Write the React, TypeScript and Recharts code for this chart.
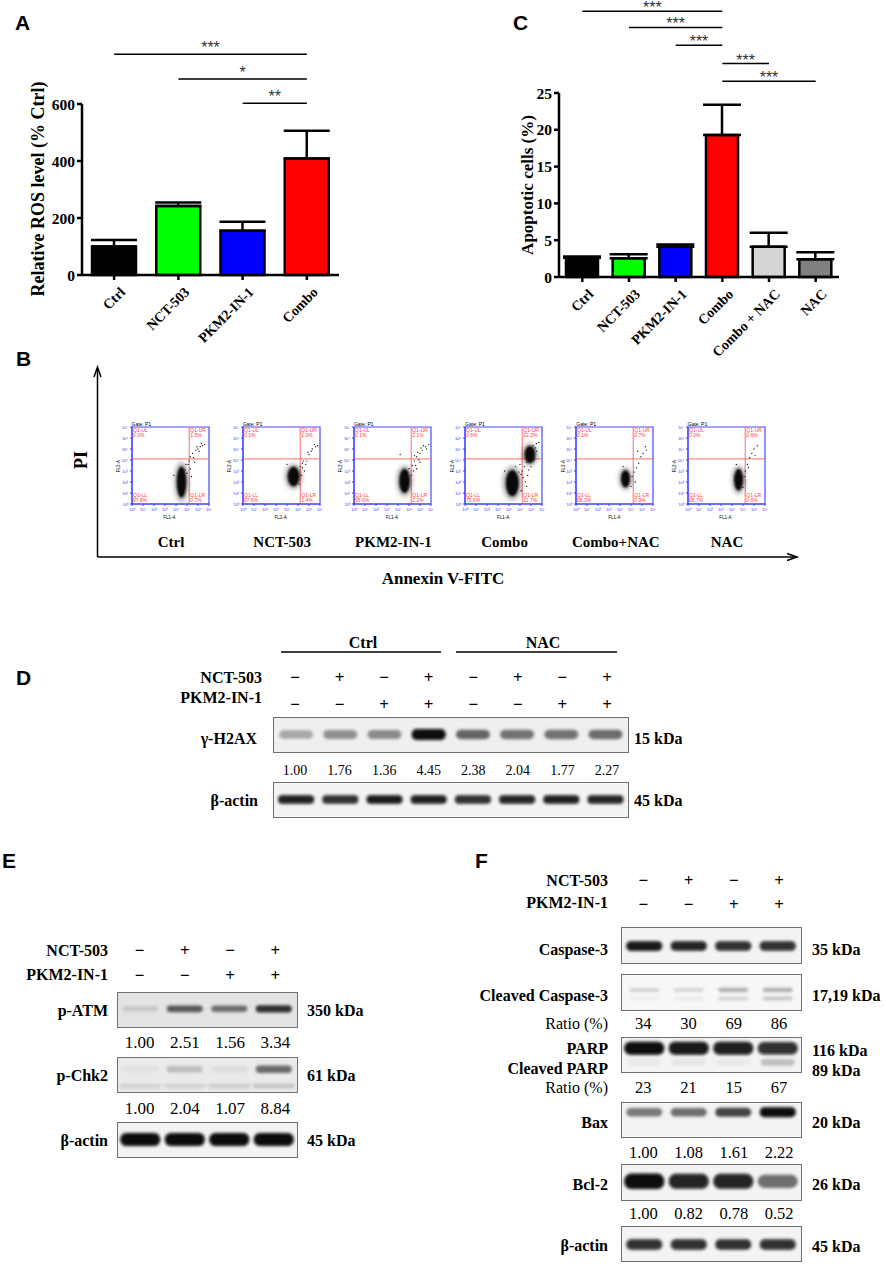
import React from 'react';
import {
  Bar,
  BarChart,
  Cell,
  ErrorBar,
  ReferenceArea,
  ReferenceDot,
  ReferenceLine,
  Scatter,
  ScatterChart,
  XAxis,
  YAxis,
} from 'recharts';

const SERIF = "'Liberation Serif', 'Times New Roman', serif";
const SANS = "'Liberation Sans', Arial, sans-serif";

// ---- panel A: ROS ----
const rosGroups = ['Ctrl', 'NCT-503', 'PKM2-IN-1', 'Combo'];
const rosMean = [100, 242, 155, 409];
const rosSem = [23, 12, 32, 97];
const rosColors = ['#000000', '#00ff00', '#0000ff', '#ff0000'];
const rosTicks = [0, 200, 400, 600];
const rosSig = [
  { from: 'Ctrl', to: 'Combo', y: 775, mark: '***' },
  { from: 'NCT-503', to: 'Combo', y: 688, mark: '*' },
  { from: 'PKM2-IN-1', to: 'Combo', y: 603, mark: '**' },
];

// ---- panel C: apoptosis ----
const apoGroups = ['Ctrl', 'NCT-503', 'PKM2-IN-1', 'Combo', 'Combo + NAC', 'NAC'];
const apoMean = [2.6, 2.55, 4.1, 19.3, 4.1, 2.4];
const apoSem = [0.2, 0.55, 0.3, 4.1, 1.9, 0.95];
const apoColors = ['#000000', '#00ff00', '#0000ff', '#ff0000', '#d6d6d6', '#808080'];
const apoTicks = [0, 5, 10, 15, 20, 25];
const apoSig = [
  { from: 'Ctrl', to: 'Combo', y: 36.1, mark: '***' },
  { from: 'NCT-503', to: 'Combo', y: 33.9, mark: '***' },
  { from: 'PKM2-IN-1', to: 'Combo', y: 31.5, mark: '***' },
  { from: 'Combo', to: 'Combo + NAC', y: 29.0, mark: '***' },
  { from: 'Combo', to: 'NAC', y: 26.6, mark: '***' },
];

// ---- panel B: flow cytometry ----
const flowLabels = ['Ctrl', 'NCT-503', 'PKM2-IN-1', 'Combo', 'Combo+NAC', 'NAC'];
const flowUL = ['0.0%', '0.1%', '0.1%', '0.6%', '0.1%', '0.0%'];
const flowUR = ['1.5%', '1.0%', '2.1%', '12.2%', '0.7%', '0.6%'];
const flowLL = ['97.8%', '97.6%', '95.6%', '75.6%', '98.3%', '98.7%'];
const flowLR = ['0.7%', '1.4%', '2.2%', '11.7%', '0.9%', '0.6%'];
const flowCores = [
  [{ x: 4.5, y: 2.0, rx: 0.45, ry: 1.4 }],
  [{ x: 4.6, y: 2.5, rx: 0.55, ry: 0.9 }],
  [{ x: 4.6, y: 2.1, rx: 0.5, ry: 1.1 }],
  [{ x: 4.3, y: 1.9, rx: 0.6, ry: 1.2 }, { x: 5.9, y: 4.5, rx: 0.5, ry: 0.8 }],
  [{ x: 4.5, y: 2.3, rx: 0.42, ry: 0.8 }],
  [{ x: 4.6, y: 2.2, rx: 0.42, ry: 1.0 }],
];
const flowEvents = [
  [[5.3, 4.3], [5.5, 4.6], [5.8, 4.9], [6.0, 5.0], [6.2, 5.2], [6.4, 5.3], [6.6, 5.4], [5.6, 4.2], [5.1, 3.6], [5.3, 3.2], [4.9, 3.6], [5.0, 2.8], [5.4, 2.5], [3.8, 2.6], [5.7, 3.8], [6.1, 4.8], [5.9, 5.2], [6.3, 5.5], [5.2, 3.9], [4.8, 3.1]],
  [[5.4, 3.3], [5.7, 3.6], [5.5, 3.9], [6.0, 4.5], [6.3, 5.0], [6.6, 5.2], [6.8, 5.3], [5.9, 4.7], [5.3, 2.6], [5.1, 1.8], [5.6, 3.0], [4.0, 3.6], [6.2, 4.8], [5.2, 3.4], [6.5, 5.4], [5.8, 3.9], [5.4, 3.7]],
  [[5.3, 3.5], [5.5, 3.9], [5.7, 4.3], [6.0, 4.6], [6.2, 4.9], [6.5, 5.2], [6.8, 5.4], [5.6, 3.5], [5.9, 4.0], [5.4, 3.0], [5.2, 2.6], [6.1, 5.1], [5.8, 4.7], [4.2, 4.5], [5.0, 3.2], [6.6, 5.0], [6.3, 5.3], [5.7, 3.2], [6.0, 3.8], [5.5, 4.4]],
  [[5.2, 3.0], [5.4, 3.4], [5.6, 3.8], [5.3, 2.4], [5.5, 2.0], [5.7, 2.6], [6.2, 5.3], [6.5, 5.5], [6.7, 5.6], [5.0, 3.6], [6.0, 3.4], [5.8, 3.1], [6.3, 4.0], [5.1, 1.2], [4.6, 3.4], [3.6, 3.0], [6.5, 4.8], [5.1, 2.7], [5.6, 1.6], [6.4, 5.1], [4.9, 2.9]],
  [[5.1, 2.5], [5.3, 2.9], [5.5, 3.3], [5.7, 3.7], [5.9, 4.3], [6.1, 4.6], [6.4, 4.9], [5.0, 1.6], [5.6, 4.8], [4.3, 3.4], [5.4, 2.0], [6.3, 5.2]],
  [[5.2, 3.0], [5.4, 3.6], [5.6, 4.2], [5.8, 4.6], [6.0, 5.0], [6.3, 5.3], [5.1, 2.5], [4.4, 3.6], [5.5, 3.3], [6.1, 4.4], [5.0, 1.5]],
];
const flowTicks = [0, 1, 2, 3, 4, 5, 6, 7];
const flowTickText = ['10⁰', '10¹', '10²', '10³', '10⁴', '10⁵', '10⁶', '10⁷'];
const gateX = 5.2;
const gateY = 4.1;

// ---- panel D ----
const dNct = ['−', '+', '−', '+', '−', '+', '−', '+'];
const dPkm = ['−', '−', '+', '+', '−', '−', '+', '+'];
const dH2axValues = ['1.00', '1.76', '1.36', '4.45', '2.38', '2.04', '1.77', '2.27'];
const dH2axDark = [0.3, 0.4, 0.42, 1.0, 0.58, 0.52, 0.52, 0.55];
const dActinDark = [0.92, 0.85, 0.95, 0.92, 0.85, 0.9, 0.92, 0.9];

// ---- panel E ----
const ePlusMinusNct = ['−', '+', '−', '+'];
const ePlusMinusPkm = ['−', '−', '+', '+'];
const eAtmValues = ['1.00', '2.51', '1.56', '3.34'];
const eChkValues = ['1.00', '2.04', '1.07', '8.84'];
const eAtmDark = [0.12, 0.62, 0.52, 0.8];
const eChkDark = [0.04, 0.2, 0.06, 0.55];
const eChkLowDark = [0.1, 0.1, 0.12, 0.16];
const eActinDark = [1, 1, 1, 1];

// ---- panel F ----
const fCasp3Dark = [0.95, 0.9, 0.85, 0.85];
const fClCaspUpper = [0.16, 0.14, 0.3, 0.3];
const fClCaspLower = [0.04, 0.05, 0.14, 0.2];
const fClCaspRatio = ['34', '30', '69', '86'];
const fParpDark = [1, 0.95, 0.92, 0.85];
const fClParpDark = [0.04, 0.06, 0.04, 0.22];
const fParpRatio = ['23', '21', '15', '67'];
const fBaxDark = [0.5, 0.55, 0.72, 1];
const fBaxValues = ['1.00', '1.08', '1.61', '2.22'];
const fBcl2Dark = [1, 0.9, 0.9, 0.55];
const fBcl2Values = ['1.00', '0.82', '0.78', '0.52'];
const fActinDark = [0.85, 0.85, 0.8, 0.85];

const rosData = rosGroups.map((name, i) => ({ name, mean: rosMean[i], err: [0, rosSem[i]] }));
const apoData = apoGroups.map((name, i) => ({ name, mean: apoMean[i], err: [0, apoSem[i]] }));

function SlantTick({ x, y, payload }: any) {
  return (
    <g transform={`translate(${x + 5},${y + 4})`}>
      <text
        textAnchor="end"
        transform="rotate(-45)"
        dy="0.7em"
        fontFamily={SERIF}
        fontWeight="bold"
        fontSize={14}
        fill="#000"
      >
        {payload.value}
      </text>
    </g>
  );
}

const axisStyle = { stroke: '#000', strokeWidth: 2.5 };
const yTick = { fill: '#000', fontFamily: SERIF, fontWeight: 'bold', fontSize: 15.5 };
const starStyle = { fill: '#333', fontSize: 16, fontFamily: SANS };

function RosChart() {
  return (
    <BarChart width={440} height={360} data={rosData} margin={{ top: 104, right: 101, bottom: 10, left: 32 }}>
      <XAxis dataKey="name" interval={0} height={75} tickSize={5} axisLine={axisStyle} tickLine={axisStyle} tick={<SlantTick />} />
      <YAxis domain={[0, 600]} ticks={rosTicks} interval={0} width={50} tickSize={5} axisLine={axisStyle} tickLine={axisStyle} tick={yTick} />
      <Bar dataKey="mean" barSize={44} stroke="#000" strokeWidth={2.5} isAnimationActive={false}>
        {rosData.map((d, i) => (
          <Cell key={d.name} fill={rosColors[i]} />
        ))}
        <ErrorBar dataKey="err" width={23} stroke="#000" strokeWidth={2.5} direction="y" />
      </Bar>
      {rosSig.map((s) => (
        <ReferenceLine
          key={s.from + s.to}
          segment={[{ x: s.from, y: s.y }, { x: s.to, y: s.y }]}
          ifOverflow="visible"
          stroke="#000"
          strokeWidth={1.5}
          label={{ value: s.mark, position: 'top', offset: 1, ...starStyle }}
        />
      ))}
    </BarChart>
  );
}

function ApoChart() {
  return (
    <BarChart width={446} height={360} data={apoData} margin={{ top: 93, right: 47, bottom: 8, left: 69 }}>
      <XAxis dataKey="name" interval={0} height={75} tickSize={5} axisLine={axisStyle} tickLine={axisStyle} tick={<SlantTick />} />
      <YAxis domain={[0, 25]} ticks={apoTicks} interval={0} width={50} tickSize={5} axisLine={axisStyle} tickLine={axisStyle} tick={yTick} />
      <Bar dataKey="mean" barSize={32} stroke="#000" strokeWidth={2.5} isAnimationActive={false}>
        {apoData.map((d, i) => (
          <Cell key={d.name} fill={apoColors[i]} />
        ))}
        <ErrorBar dataKey="err" width={19} stroke="#000" strokeWidth={2.5} direction="y" />
      </Bar>
      {apoSig.map((s) => (
        <ReferenceLine
          key={s.from + s.to}
          segment={[{ x: s.from, y: s.y }, { x: s.to, y: s.y }]}
          ifOverflow="visible"
          stroke="#000"
          strokeWidth={1.5}
          label={{ value: s.mark, position: 'top', offset: -2, ...starStyle }}
        />
      ))}
    </BarChart>
  );
}

// flow plot geometry
const FLOW_TOP = 427;
const FLOW_SIZE = 77;
const FLOW_PX = FLOW_SIZE / 7;
const flowLeft = (i: number) => 131.5 + i * 111.2;

function quadShape(name: string, pct: string, bottom: boolean) {
  return (p: any) => (
    <text x={p.cx} y={bottom ? p.cy - 6 : p.cy + 4} fontSize={5} fill="#ff3c3c" fontFamily={SANS}>
      <tspan x={p.cx}>{name}</tspan>
      <tspan x={p.cx} dy={5}>{pct}</tspan>
    </text>
  );
}

const coreShape = (p: any) => {
  const rx = p.payload.rx * FLOW_PX;
  const ry = p.payload.ry * FLOW_PX;
  return (
    <g>
      <ellipse cx={p.cx} cy={p.cy} rx={rx * 1.5} ry={ry * 1.3} fill="#000" fillOpacity={0.3} filter="url(#haloBlur)" />
      <ellipse cx={p.cx} cy={p.cy} rx={rx} ry={ry} fill="#000" fillOpacity={0.95} filter="url(#coreBlur)" />
    </g>
  );
};

const eventShape = (p: any) => <circle cx={p.cx} cy={p.cy} r={0.7} fill="#222" />;

function FlowTick({ x, y, payload, vertical }: any) {
  return (
    <text x={x} y={y} fontSize={4} fill="#3b3bff" fontFamily={SANS} textAnchor={vertical ? 'end' : 'middle'} dy={vertical ? 1.5 : 3}>
      {flowTickText[payload.value]}
    </text>
  );
}

function FlowPlot({ i }: { i: number }) {
  const events = flowEvents[i].map(([x, y]) => ({ x, y }));
  return (
    <div style={{ position: 'absolute', left: flowLeft(i) - 18, top: FLOW_TOP - 8 }}>
      <ScatterChart width={100} height={101} margin={{ top: 8, right: 5, bottom: 6, left: 10 }}>
        <XAxis type="number" dataKey="x" domain={[0, 7]} ticks={flowTicks} interval={0} height={10} tickSize={2}
          axisLine={{ stroke: '#3b3bff' }} tickLine={{ stroke: '#3b3bff' }} tick={<FlowTick />} />
        <YAxis type="number" dataKey="y" domain={[0, 7]} ticks={flowTicks} interval={0} width={8} tickSize={2}
          axisLine={{ stroke: '#3b3bff' }} tickLine={{ stroke: '#3b3bff' }} tick={<FlowTick vertical />} />
        <ReferenceArea x1={0} x2={7} y1={0} y2={7} fill="none" stroke="#4a4aff" strokeWidth={1.2} fillOpacity={0} />
        <Scatter data={flowCores[i]} shape={coreShape} isAnimationActive={false} />
        <Scatter data={events} shape={eventShape} isAnimationActive={false} />
        <ReferenceLine x={gateX} stroke="#ff5a5a" strokeWidth={0.9} />
        <ReferenceLine y={gateY} stroke="#ff5a5a" strokeWidth={0.9} />
        <ReferenceDot x={0.1} y={6.9} r={0} shape={quadShape('Q1-UL', flowUL[i], false)} />
        <ReferenceDot x={gateX + 0.1} y={6.9} r={0} shape={quadShape('Q1-UR', flowUR[i], false)} />
        <ReferenceDot x={0.1} y={0.1} r={0} shape={quadShape('Q1-LL', flowLL[i], true)} />
        <ReferenceDot x={gateX + 0.1} y={0.1} r={0} shape={quadShape('Q1-LR', flowLR[i], true)} />
      </ScatterChart>
    </div>
  );
}

type BandRow = { dark: number[]; y: number; rx: number; ry: number };

function Blot({ left, top, width, height, rows, bg = '#f3f3f3' }: {
  left: number; top: number; width: number; height: number; rows: BandRow[]; bg?: string;
}) {
  const n = rows[0].dark.length;
  return (
    <div style={{ position: 'absolute', left, top, width, height, background: bg, border: '1.5px solid #707070', boxSizing: 'border-box' }}>
      <ScatterChart width={width - 3} height={height - 3} margin={{ top: 0, right: 0, bottom: 0, left: 0 }}>
        <XAxis type="number" dataKey="lane" domain={[0.5, n + 0.5]} hide />
        <YAxis type="number" dataKey="y" domain={[0, 1]} hide />
        {rows.map((row, r) => (
          <Scatter
            key={r}
            data={row.dark.map((d, i) => ({ lane: i + 1, y: row.y, dark: d }))}
            isAnimationActive={false}
            shape={(p: any) => (
              <rect
                x={p.cx - row.rx}
                y={p.cy - row.ry * (0.75 + 0.35 * p.payload.dark)}
                width={row.rx * 2}
                height={row.ry * 2 * (0.75 + 0.35 * p.payload.dark)}
                rx={row.ry}
                fill="#080808"
                fillOpacity={p.payload.dark}
                filter="url(#bandBlur)"
              />
            )}
          />
        ))}
      </ScatterChart>
    </div>
  );
}

function T({ x, y, children, anchor = 'start', size = 16, bold = true, family = SERIF, rotate, fill = '#000' }: any) {
  return (
    <text
      x={x}
      y={y}
      textAnchor={anchor}
      dominantBaseline="central"
      fontSize={size}
      fontWeight={bold ? 'bold' : 'normal'}
      fontFamily={family}
      fill={fill}
      transform={rotate ? `rotate(${rotate} ${x} ${y})` : undefined}
    >
      {children}
    </text>
  );
}

// blot boxes
const D_BOX = { left: 272.7, width: 356.6 };
const E_BOX = { left: 117, width: 181 };
const F_BOX = { left: 620.7, width: 181 };
const lane = (box: { left: number; width: number }, n: number, i: number) => box.left + ((i + 0.5) * box.width) / n;

function Row({ box, items, y, size = 17, bold = true }: any) {
  return (
    <>
      {items.map((s: string, i: number) => (
        <T key={i} x={lane(box, items.length, i)} y={y} anchor="middle" size={size} bold={bold}>
          {s}
        </T>
      ))}
    </>
  );
}

function Overlay() {
  return (
    <svg width={886} height={1264} style={{ position: 'absolute', left: 0, top: 0, pointerEvents: 'none' }}>
      <defs>
        <filter id="bandBlur" x="-50%" y="-150%" width="200%" height="400%">
          <feGaussianBlur stdDeviation="1.7" />
        </filter>
        <filter id="coreBlur" x="-50%" y="-50%" width="200%" height="200%">
          <feGaussianBlur stdDeviation="0.9" />
        </filter>
        <filter id="haloBlur" x="-50%" y="-50%" width="200%" height="200%">
          <feGaussianBlur stdDeviation="2" />
        </filter>
      </defs>
      {/* panel letters */}
      <T x={15} y={22.5} size={21} family={SANS}>A</T>
      <T x={513} y={22.5} size={21} family={SANS}>C</T>
      <T x={16} y={358} size={21} family={SANS}>B</T>
      <T x={16} y={677} size={21} family={SANS}>D</T>
      <T x={2} y={860} size={21} family={SANS}>E</T>
      <T x={475} y={860} size={21} family={SANS}>F</T>

      {/* A / C axis titles */}
      <T x={38} y={189} size={18} anchor="middle" rotate={-90}>Relative ROS level (% Ctrl)</T>
      <T x={527} y={185} size={17} anchor="middle" rotate={-90}>Apoptotic cells (%)</T>

      {/* B axes */}
      <line x1={97.5} y1={368} x2={97.5} y2={557} stroke="#000" strokeWidth={1.5} />
      <polyline points="94,377 97.5,367 101,377" fill="none" stroke="#000" strokeWidth={1.5} />
      <line x1={97.5} y1={557} x2={797} y2={557} stroke="#000" strokeWidth={1.5} />
      <polyline points="787,553.5 797,557 787,560.5" fill="none" stroke="#000" strokeWidth={1.5} />
      <T x={81} y={460} size={18} anchor="middle" rotate={-90}>PI</T>
      <T x={443} y={578} size={17} anchor="middle">Annexin V-FITC</T>
      {flowLabels.map((l, i) => (
        <g key={l}>
          <T x={flowLeft(i) + FLOW_SIZE / 2 + 1} y={542} size={15} anchor="middle">{l}</T>
          <T x={flowLeft(i)} y={423.5} size={5} bold={false} family={SANS}>Gate: P1</T>
          <T x={flowLeft(i) - 13} y={466} size={4.5} bold={false} family={SANS} anchor="middle" rotate={-90}>FL2-A</T>
          <T x={flowLeft(i) + 38} y={517} size={4.5} bold={false} family={SANS} anchor="middle">FL1-A</T>
        </g>
      ))}

      {/* D */}
      <T x={363} y={642} anchor="middle">Ctrl</T>
      <T x={543} y={642} anchor="middle">NAC</T>
      <line x1={281} y1={652} x2={441} y2={652} stroke="#000" strokeWidth={1.5} />
      <line x1={456} y1={652} x2={617} y2={652} stroke="#000" strokeWidth={1.5} />
      <T x={262} y={677} anchor="end">NCT-503</T>
      <T x={262} y={697} anchor="end">PKM2-IN-1</T>
      <Row box={D_BOX} items={dNct} y={677} />
      <Row box={D_BOX} items={dPkm} y={704} />
      <T x={257} y={738} anchor="end">γ-H2AX</T>
      <T x={634} y={738}>15 kDa</T>
      <Row box={D_BOX} items={dH2axValues} y={770} size={14} bold={false} />
      <T x={258} y={800} anchor="end">β-actin</T>
      <T x={634} y={800}>45 kDa</T>

      {/* E */}
      <T x={108} y={950} anchor="end">NCT-503</T>
      <T x={108} y={974} anchor="end">PKM2-IN-1</T>
      <Row box={E_BOX} items={ePlusMinusNct} y={950} />
      <Row box={E_BOX} items={ePlusMinusPkm} y={975} />
      <T x={108} y={1010} anchor="end">p-ATM</T>
      <T x={307} y={1010}>350 kDa</T>
      <Row box={E_BOX} items={eAtmValues} y={1042} size={17} bold={false} />
      <T x={108} y={1075} anchor="end">p-Chk2</T>
      <T x={307} y={1075}>61 kDa</T>
      <Row box={E_BOX} items={eChkValues} y={1108} size={17} bold={false} />
      <T x={108} y={1140} anchor="end">β-actin</T>
      <T x={307} y={1140}>45 kDa</T>

      {/* F */}
      <T x={608} y={880} anchor="end">NCT-503</T>
      <T x={608} y={902} anchor="end">PKM2-IN-1</T>
      <Row box={F_BOX} items={ePlusMinusNct} y={880} />
      <Row box={F_BOX} items={ePlusMinusPkm} y={904} />
      <T x={608} y={949} anchor="end">Caspase-3</T>
      <T x={812} y={949}>35 kDa</T>
      <T x={608} y={995} anchor="end">Cleaved Caspase-3</T>
      <T x={812} y={995}>17,19 kDa</T>
      <T x={608} y={1023} anchor="end" bold={false}>Ratio (%)</T>
      <Row box={F_BOX} items={fClCaspRatio} y={1023} size={16.5} bold={false} />
      <T x={608} y={1048} anchor="end">PARP</T>
      <T x={608} y={1068} anchor="end">Cleaved PARP</T>
      <T x={812} y={1050}>116 kDa</T>
      <T x={812} y={1070}>89 kDa</T>
      <T x={608} y={1087} anchor="end" bold={false}>Ratio (%)</T>
      <Row box={F_BOX} items={fParpRatio} y={1087} size={16.5} bold={false} />
      <T x={608} y={1122} anchor="end">Bax</T>
      <T x={812} y={1122}>20 kDa</T>
      <Row box={F_BOX} items={fBaxValues} y={1152} size={16.5} bold={false} />
      <T x={608} y={1184} anchor="end">Bcl-2</T>
      <T x={812} y={1184}>26 kDa</T>
      <Row box={F_BOX} items={fBcl2Values} y={1213} size={16.5} bold={false} />
      <T x={608} y={1245} anchor="end">β-actin</T>
      <T x={812} y={1246}>45 kDa</T>
    </svg>
  );
}

export default function App() {
  return (
    <div style={{ position: 'absolute', left: 0, top: 0, width: 886, height: 1264, background: '#fff', overflow: 'hidden' }}>
      <div style={{ position: 'absolute', left: 0, top: 0 }}>
        <RosChart />
      </div>
      <div style={{ position: 'absolute', left: 440, top: 0 }}>
        <ApoChart />
      </div>
      {flowLabels.map((l, i) => (
        <FlowPlot key={l} i={i} />
      ))}

      <Blot left={D_BOX.left} top={717} width={D_BOX.width} height={36} bg="#efefef"
        rows={[{ dark: dH2axDark, y: 0.5, rx: 17, ry: 5 }]} />
      <Blot left={D_BOX.left} top={782} width={D_BOX.width} height={36}
        rows={[{ dark: dActinDark, y: 0.5, rx: 18, ry: 4 }]} />

      <Blot left={E_BOX.left} top={992} width={E_BOX.width} height={36} bg="#e4e4e4"
        rows={[{ dark: eAtmDark, y: 0.52, rx: 18, ry: 3.5 }]} />
      <Blot left={E_BOX.left} top={1057} width={E_BOX.width} height={36} bg="#eaeaea"
        rows={[{ dark: eChkDark, y: 0.66, rx: 18, ry: 4 }, { dark: eChkLowDark, y: 0.15, rx: 21, ry: 3 }]} />
      <Blot left={E_BOX.left} top={1122} width={E_BOX.width} height={36}
        rows={[{ dark: eActinDark, y: 0.5, rx: 20, ry: 6 }]} />

      <Blot left={F_BOX.left} top={927} width={F_BOX.width} height={37}
        rows={[{ dark: fCasp3Dark, y: 0.47, rx: 18, ry: 4.5 }]} />
      <Blot left={F_BOX.left} top={974} width={F_BOX.width} height={37} bg="#f7f7f7"
        rows={[{ dark: fClCaspUpper, y: 0.56, rx: 15, ry: 2.5 }, { dark: fClCaspLower, y: 0.31, rx: 15, ry: 2.5 }]} />
      <Blot left={F_BOX.left} top={1037} width={F_BOX.width} height={36}
        rows={[{ dark: fParpDark, y: 0.69, rx: 20, ry: 6 }, { dark: fClParpDark, y: 0.26, rx: 17, ry: 4 }]} />
      <Blot left={F_BOX.left} top={1102} width={F_BOX.width} height={36}
        rows={[{ dark: fBaxDark, y: 0.72, rx: 18, ry: 4.5 }]} />
      <Blot left={F_BOX.left} top={1164} width={F_BOX.width} height={37}
        rows={[{ dark: fBcl2Dark, y: 0.52, rx: 20, ry: 7 }]} />
      <Blot left={F_BOX.left} top={1226} width={F_BOX.width} height={36}
        rows={[{ dark: fActinDark, y: 0.47, rx: 18, ry: 5 }]} />

      <Overlay />
    </div>
  );
}
